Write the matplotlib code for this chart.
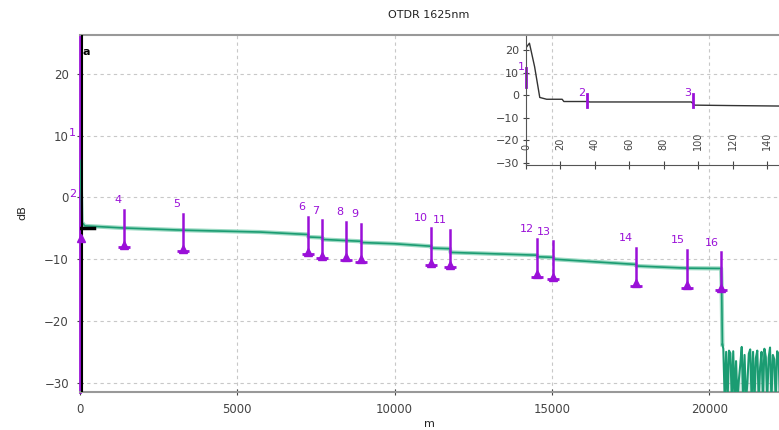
import matplotlib
matplotlib.use('Agg')
import matplotlib.pyplot as plt
import numpy as np

# main trace (m, dB)
trace_m = [0, 60, 150, 1400, 3270, 5720, 7240, 7260, 7700, 7720, 8930, 8950, 10000,
           11160, 11180, 11760, 11780, 13000, 14520, 14540, 15045, 15065, 16000,
           17670, 17690, 19300, 20380, 20395, 20420]
trace_db = [6.0, -4.0, -4.6, -4.95, -5.3, -5.6, -6.0, -6.4, -6.5, -6.8, -7.1, -7.3, -7.5,
            -7.9, -8.2, -8.3, -8.9, -9.1, -9.35, -9.6, -9.7, -10.0, -10.3,
            -10.85, -11.1, -11.45, -11.5, -14.0, -23.8]

# noise floor after fibre end
noise_m = np.arange(20450, 22300, 45)
noise_db = [-24.5, -33, -25.0, -33, -24.8, -25.2, -33, -24.9, -33, -26.5, -33, -29.5,
            -27.0, -24.2, -33, -25.5, -33, -30.0, -25.3, -24.6, -33, -25.0, -33, -26.0,
            -24.8, -33, -27.5, -25.0, -33, -24.5, -25.8, -33, -26.0, -24.3, -33, -25.5,
            -26.2, -33, -24.9, -25.4, -33, -24.7]

# events in main view
ev_id = ['4', '5', '6', '7', '8', '9', '10', '11', '12', '13', '14', '15', '16']
ev_m = [1400, 3274, 7238, 7703, 8455, 8932, 11157, 11761, 14516, 15045, 17673, 19305, 20386]
ev_db = [-5.0, -5.65, -6.1, -6.7, -7.0, -7.3, -7.9, -8.2, -9.75, -10.1, -11.2, -11.5, -11.9]

# inset (first 150 m)
ins_m = [0, 2, 5, 8, 12, 21, 22, 36, 37, 96, 98, 120, 147]
ins_db = [21.0, 23.0, 12.6, -1.0, -1.8, -1.8, -2.8, -2.8, -3.0, -3.0, -4.4, -4.6, -4.8]
ins_ev_id = ['1', '2', '3']
ins_ev_m = [0, 35.5, 97]
ins_ev_top = [12.0, 0.5, 0.5]
ins_ev_bot = [3.5, -5.2, -5.2]

purple = '#9a10d8'
green = '#1b9c72'
tick_col = '#444444'

fig = plt.figure(figsize=(7.79, 4.30), dpi=100)
ax = fig.add_axes([80 / 779, 38 / 430, 699 / 779, 357 / 430])

ax.plot(trace_m, trace_db, color='#9ad9c2', lw=3.0, zorder=2)
ax.plot(trace_m, trace_db, color=green, lw=1.2, zorder=3)
nx = list(noise_m[:len(noise_db)])
ax.plot([20420] + nx, [-23.8] + noise_db[:len(nx)], color=green, lw=1.5, zorder=3)
ax.fill_between(nx, noise_db[:len(nx)], -33, color=green, alpha=0.15, lw=0, zorder=2)

# start of trace
ax.plot([0, 450], [-5.0, -5.0], color='black', lw=2.5, zorder=4)
ax.axvline(60, color='black', lw=1.5, zorder=5)
ax.plot([30], [-6.6], marker='^', color=purple, ms=6, zorder=6, clip_on=False)
ax.text(-230, 10.5, '1', color=purple, fontsize=8, ha='center', va='center')
ax.text(-230, 0.6, '2', color=purple, fontsize=8, ha='center', va='center')
ax.text(90, 23.5, 'a', color='black', fontsize=8, fontweight='bold', ha='left', va='center',
        zorder=7)

for lab, m, db in zip(ev_id, ev_m, ev_db):
    top, bot = db + 3.0, db - 3.1
    ax.plot([m, m], [top, bot], color=purple, lw=1.8, zorder=5)
    ax.plot([m], [bot + 0.4], marker='^', color=purple, ms=6, zorder=5)
    ax.plot([m], [bot], marker='_', color=purple, ms=8, mew=2, zorder=5)
    ax.annotate(lab, (m, top), xytext=(-2, 7), textcoords='offset points',
                ha='right', va='center', color=purple, fontsize=8)

ax.set_xlim(0, 22220)
ax.set_ylim(-31.5, 26.3)
ax.set_xticks([0, 5000, 10000, 15000, 20000])
ax.set_yticks([-30, -20, -10, 0, 10, 20])
ax.grid(True, color='#c8c8c8', ls=(0, (3, 3)), lw=0.8)
ax.tick_params(direction='inout', length=4, colors=tick_col, labelsize=8.5, pad=6)
for s in ['top', 'bottom']:
    ax.spines[s].set_color('#999999')
    ax.spines[s].set_linewidth(1.5)
ax.spines['right'].set_visible(False)
ax.spines['left'].set_color(purple)
ax.spines['left'].set_linewidth(2)

fig.text(429 / 779, 1 - 15 / 430, 'OTDR 1625nm', ha='center', va='center', fontsize=8,
         color='#222222')
fig.text(429 / 779, 1 - 424 / 430, 'm', ha='center', va='center', fontsize=8, color='#222222')
fig.text(22 / 779, 1 - 213 / 430, 'dB', ha='center', va='center', fontsize=8,
         color='#222222', rotation=90)

# inset
ins = fig.add_axes([526 / 779, 265 / 430, 253 / 779, 129 / 430])
ins.patch.set_alpha(0)
ins.plot(ins_m, ins_db, color='#333333', lw=1.0)
for lab, m, t, b in zip(ins_ev_id, ins_ev_m, ins_ev_top, ins_ev_bot):
    ins.plot([m, m], [t, b], color=purple, lw=2, clip_on=False)
    ins.text(m - 3, t + 0.5, lab, color=purple, fontsize=8, ha='center', va='center')
ins.set_xlim(0, 147)
ins.set_ylim(-30.9, 26.2)
ins.set_xticks([0, 20, 40, 60, 80, 100, 120, 140])
ins.set_yticks([-30, -20, -10, 0, 10, 20])
ins.tick_params(axis='y', direction='inout', length=4, colors=tick_col, labelsize=8, pad=3)
ins.tick_params(axis='x', direction='inout', length=6, colors=tick_col, labelsize=7,
                pad=-14, labelrotation=90)
for lbl in ins.get_xticklabels():
    lbl.set_va('bottom')
ins.spines['top'].set_visible(False)
ins.spines['right'].set_visible(False)
ins.spines['left'].set_color('#555555')
ins.spines['bottom'].set_color('#555555')

fig.savefig('out.png', dpi=100)
